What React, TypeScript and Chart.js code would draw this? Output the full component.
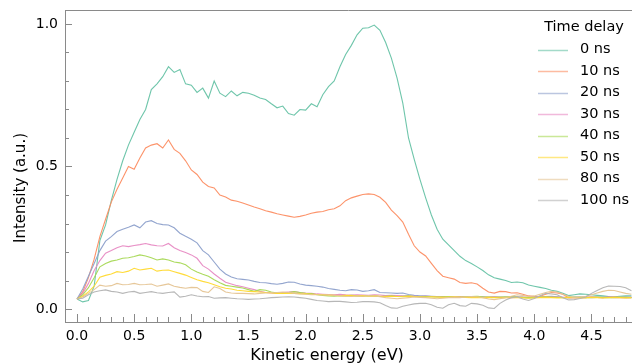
import React, { useEffect, useRef } from "react";
import { Chart, registerables } from "chart.js";

Chart.register(...registerables);

// Kinetic energy grid (eV)
const energy = [
  0.0, 0.05, 0.1, 0.15, 0.2, 0.25, 0.3, 0.35, 0.4, 0.45,
  0.5, 0.55, 0.6, 0.65, 0.7, 0.75, 0.8, 0.85, 0.9, 0.95,
  1.0, 1.05, 1.1, 1.15, 1.2, 1.25, 1.3, 1.35, 1.4, 1.45,
  1.5, 1.55, 1.6, 1.65, 1.7, 1.75, 1.8, 1.85, 1.9, 1.95,
  2.0, 2.05, 2.1, 2.15, 2.2, 2.25, 2.3, 2.35, 2.4, 2.45,
  2.5, 2.55, 2.6, 2.65, 2.7, 2.75, 2.8, 2.85, 2.9, 2.95,
  3.0, 3.05, 3.1, 3.15, 3.2, 3.25, 3.3, 3.35, 3.4, 3.45,
  3.5, 3.55, 3.6, 3.65, 3.7, 3.75, 3.8, 3.85, 3.9, 3.95,
  4.0, 4.05, 4.1, 4.15, 4.2, 4.25, 4.3, 4.35, 4.4, 4.45,
  4.5, 4.55, 4.6, 4.65, 4.7, 4.75, 4.8, 4.85,
];

const delay0 = [
  0.035, 0.025, 0.03, 0.08, 0.24, 0.295, 0.38, 0.455, 0.52, 0.575,
  0.62, 0.665, 0.7, 0.77, 0.79, 0.815, 0.85, 0.83, 0.84, 0.79,
  0.785, 0.76, 0.775, 0.74, 0.8, 0.757, 0.745, 0.765, 0.748, 0.76,
  0.757, 0.75, 0.74, 0.735, 0.72, 0.706, 0.712, 0.686, 0.68, 0.7,
  0.698, 0.72, 0.71, 0.752, 0.78, 0.8, 0.85, 0.893, 0.925, 0.962,
  0.985, 0.987, 0.996, 0.978, 0.935, 0.88, 0.81, 0.722, 0.6, 0.525,
  0.455, 0.39, 0.33, 0.28, 0.245, 0.225, 0.205, 0.185, 0.17, 0.16,
  0.148, 0.135, 0.12, 0.11, 0.105, 0.1, 0.093, 0.095, 0.092, 0.084,
  0.08, 0.076, 0.072, 0.066, 0.062, 0.055, 0.047, 0.05, 0.053, 0.052,
  0.05, 0.048, 0.046, 0.044, 0.043, 0.045, 0.046, 0.046,
];

const delay10 = [
  0.035, 0.06, 0.11, 0.175, 0.254, 0.315, 0.375, 0.42, 0.46, 0.5,
  0.49, 0.53, 0.565, 0.575, 0.58, 0.565, 0.593, 0.56, 0.546, 0.52,
  0.488, 0.472, 0.445, 0.43, 0.425, 0.4, 0.393, 0.382, 0.378, 0.372,
  0.365, 0.358, 0.352, 0.345, 0.34, 0.334, 0.33, 0.326, 0.322, 0.325,
  0.33, 0.336, 0.34, 0.342, 0.348, 0.352, 0.362, 0.38, 0.39, 0.396,
  0.402, 0.404, 0.402, 0.392, 0.374, 0.347, 0.328, 0.305, 0.262, 0.222,
  0.2, 0.186, 0.16, 0.135, 0.115, 0.11, 0.105, 0.093, 0.09, 0.092,
  0.088, 0.073, 0.06, 0.056, 0.062, 0.061, 0.056, 0.057, 0.052, 0.046,
  0.044, 0.045, 0.052, 0.058, 0.056, 0.052, 0.04, 0.04, 0.041, 0.04,
  0.042, 0.041, 0.04, 0.042, 0.041, 0.04, 0.041, 0.04,
];

const delay20 = [
  0.035, 0.07, 0.115, 0.16, 0.205, 0.238, 0.254, 0.272, 0.28, 0.287,
  0.295, 0.285, 0.305, 0.31, 0.3, 0.296, 0.295, 0.285, 0.266, 0.255,
  0.245, 0.232, 0.205, 0.19, 0.165, 0.14, 0.123, 0.112, 0.106, 0.104,
  0.102, 0.097, 0.093, 0.092, 0.089, 0.087, 0.09, 0.095, 0.094, 0.088,
  0.084, 0.082, 0.08, 0.077, 0.072, 0.069, 0.066, 0.064, 0.068, 0.067,
  0.062, 0.064, 0.068, 0.058, 0.057, 0.056, 0.055, 0.056, 0.051, 0.048,
  0.046, 0.046, 0.045, 0.044, 0.044, 0.043, 0.042, 0.043, 0.042, 0.041,
  0.042, 0.043, 0.041, 0.042, 0.04, 0.041, 0.042, 0.043, 0.041, 0.04,
  0.041, 0.042, 0.044, 0.045, 0.043, 0.041, 0.04, 0.041, 0.042, 0.041,
  0.04, 0.041, 0.042, 0.041, 0.04, 0.041, 0.042, 0.041,
];

const delay30 = [
  0.035, 0.055, 0.09, 0.135, 0.17, 0.196, 0.205, 0.215, 0.222, 0.219,
  0.223, 0.226, 0.23, 0.225, 0.222, 0.221, 0.23, 0.215, 0.205, 0.198,
  0.19, 0.178, 0.152, 0.14, 0.123, 0.108, 0.094, 0.088, 0.082, 0.078,
  0.073, 0.068, 0.062, 0.058, 0.056, 0.055, 0.058, 0.06, 0.061, 0.058,
  0.056, 0.055, 0.053, 0.052, 0.051, 0.05, 0.052, 0.05, 0.049, 0.05,
  0.049, 0.048, 0.05, 0.049, 0.047, 0.048, 0.047, 0.046, 0.046, 0.045,
  0.044, 0.045, 0.044, 0.043, 0.044, 0.043, 0.042, 0.043, 0.042, 0.043,
  0.042, 0.041, 0.042, 0.043, 0.042, 0.041, 0.04, 0.041, 0.042, 0.041,
  0.042, 0.043, 0.044, 0.043, 0.042, 0.041, 0.04, 0.041, 0.04, 0.041,
  0.042, 0.041, 0.04, 0.041, 0.042, 0.041, 0.04, 0.041,
];

const delay40 = [
  0.035, 0.05, 0.075, 0.11, 0.148, 0.16, 0.168, 0.172, 0.178, 0.18,
  0.184, 0.19, 0.186, 0.18, 0.172, 0.176, 0.172, 0.165, 0.162, 0.155,
  0.14, 0.13, 0.122, 0.115, 0.103, 0.092, 0.083, 0.08, 0.077, 0.074,
  0.068, 0.062, 0.068, 0.066, 0.06, 0.056, 0.055, 0.058, 0.061, 0.058,
  0.055, 0.054, 0.05, 0.048, 0.046, 0.045, 0.047, 0.046, 0.048, 0.046,
  0.045, 0.047, 0.046, 0.044, 0.045, 0.046, 0.044, 0.045, 0.046, 0.044,
  0.043, 0.044, 0.043, 0.042, 0.043, 0.044, 0.042, 0.041, 0.043, 0.044,
  0.045, 0.043, 0.042, 0.041, 0.042, 0.043, 0.044, 0.042, 0.041, 0.04,
  0.041, 0.042, 0.043, 0.042, 0.041, 0.04, 0.041, 0.042, 0.041, 0.04,
  0.041, 0.042, 0.041, 0.04, 0.041, 0.042, 0.041, 0.04,
];

const delay50 = [
  0.035, 0.045, 0.06, 0.08, 0.112, 0.118, 0.123, 0.131, 0.128, 0.133,
  0.143, 0.137, 0.14, 0.143, 0.133, 0.136, 0.137, 0.131, 0.125, 0.119,
  0.111, 0.103, 0.097, 0.092, 0.085, 0.078, 0.073, 0.07, 0.066, 0.064,
  0.062, 0.061, 0.06, 0.058, 0.056, 0.055, 0.055, 0.055, 0.055, 0.054,
  0.053, 0.052, 0.051, 0.05, 0.049, 0.048, 0.047, 0.048, 0.047, 0.046,
  0.047, 0.045, 0.046, 0.045, 0.044, 0.045, 0.044, 0.043, 0.045, 0.044,
  0.043, 0.042, 0.043, 0.042, 0.041, 0.042, 0.043, 0.042, 0.041, 0.04,
  0.041, 0.04, 0.041, 0.04, 0.039, 0.04, 0.041, 0.04, 0.039, 0.038,
  0.039, 0.04, 0.041, 0.04, 0.039, 0.04, 0.041, 0.04, 0.039, 0.04,
  0.041, 0.04, 0.039, 0.04, 0.041, 0.04, 0.039, 0.04,
];

const delay80 = [
  0.035, 0.042, 0.055, 0.068, 0.084, 0.08, 0.082, 0.09, 0.085, 0.086,
  0.09, 0.085, 0.086, 0.088, 0.08, 0.084, 0.088, 0.08, 0.076, 0.073,
  0.076, 0.075, 0.062, 0.058, 0.078, 0.072, 0.06, 0.056, 0.055, 0.055,
  0.054, 0.053, 0.055, 0.056, 0.057, 0.058, 0.06, 0.058, 0.055, 0.053,
  0.052, 0.05, 0.05, 0.049, 0.05, 0.048, 0.047, 0.045, 0.044, 0.046,
  0.045, 0.047, 0.046, 0.043, 0.04, 0.038, 0.036, 0.038, 0.04, 0.042,
  0.041, 0.04, 0.038, 0.036, 0.038, 0.04, 0.041, 0.04, 0.042, 0.044,
  0.043, 0.04, 0.035, 0.033, 0.036, 0.04, 0.045, 0.05, 0.048, 0.044,
  0.046, 0.052, 0.058, 0.062, 0.06, 0.052, 0.045, 0.04, 0.042, 0.045,
  0.05, 0.056, 0.062, 0.066, 0.065, 0.06, 0.055, 0.052,
];

const delay100 = [
  0.035, 0.038, 0.05, 0.06, 0.064, 0.067, 0.062, 0.06, 0.055, 0.06,
  0.062, 0.055, 0.058, 0.061, 0.057, 0.055, 0.058, 0.06, 0.042, 0.045,
  0.05, 0.046, 0.043, 0.044, 0.038, 0.039, 0.04, 0.038, 0.036, 0.035,
  0.034, 0.035, 0.036, 0.038, 0.04, 0.041, 0.042, 0.043, 0.042, 0.04,
  0.038, 0.034, 0.03, 0.028, 0.026, 0.027, 0.027, 0.025, 0.023, 0.024,
  0.026, 0.026, 0.025, 0.022, 0.012, 0.004, 0.003, 0.01, 0.014, 0.018,
  0.02, 0.02, 0.015, 0.006, 0.003, 0.015, 0.02, 0.012, 0.01, 0.02,
  0.018, 0.013, 0.004, 0.002, 0.02, 0.032, 0.04, 0.043, 0.035, 0.03,
  0.037, 0.047, 0.055, 0.053, 0.05, 0.04, 0.032, 0.033, 0.037, 0.042,
  0.055, 0.065, 0.075, 0.081, 0.08, 0.079, 0.075, 0.064,
];

const seriesLabels = ["0 ns", "10 ns", "20 ns", "30 ns", "40 ns", "50 ns", "80 ns", "100 ns"];
const seriesValues = [delay0, delay10, delay20, delay30, delay40, delay50, delay80, delay100];
const seriesColors = ["#66c2a5", "#fc8d62", "#8da0cb", "#e78ac3", "#a6d854", "#ffd92f", "#e5c494", "#b3b3b3"];

const xTickLabels = [0.0, 0.5, 1.0, 1.5, 2.0, 2.5, 3.0, 3.5, 4.0, 4.5];
const yTickLabels = [0.0, 0.5, 1.0];
const xMinorTicks = Array.from({ length: 49 }, (_, i) => i / 10);
const yMinorTicks = Array.from({ length: 11 }, (_, i) => i / 10);

const legendTitle = "Time delay";
const xTitle = "Kinetic energy (eV)";
const yTitle = "Intensity (a.u.)";

const FONT = "'DejaVu Sans', 'Noto Sans', sans-serif";
const AXIS_COLOR = "#8a8a8a";

function hexA(hex: string, a: number) {
  const n = parseInt(hex.slice(1), 16);
  return `rgba(${(n >> 16) & 255},${(n >> 8) & 255},${n & 255},${a})`;
}

const decorPlugin = {
  id: "decor",
  afterDraw(chart: any) {
    const { ctx, chartArea: ca, scales } = chart;
    const xs = scales.x;
    const ys = scales.y;
    ctx.save();
    ctx.strokeStyle = AXIS_COLOR;
    ctx.lineWidth = 1;
    // frame: left, bottom, top
    ctx.beginPath();
    ctx.moveTo(ca.left + 0.5, ca.top);
    ctx.lineTo(ca.left + 0.5, ca.bottom);
    ctx.moveTo(ca.left, ca.bottom - 0.5);
    ctx.lineTo(ca.right, ca.bottom - 0.5);
    ctx.moveTo(ca.left, ca.top + 0.5);
    ctx.lineTo(ca.right, ca.top + 0.5);
    ctx.stroke();
    // x ticks (inward)
    ctx.beginPath();
    for (const v of xMinorTicks) {
      const major = xTickLabels.some((t) => Math.abs(t - v) < 1e-6);
      const px = Math.round(xs.getPixelForValue(v)) + 0.5;
      const len = major ? 9 : 6;
      ctx.moveTo(px, ca.bottom);
      ctx.lineTo(px, ca.bottom - len);
    }
    for (const v of yMinorTicks) {
      const major = yTickLabels.some((t) => Math.abs(t - v) < 1e-6);
      const py = Math.round(ys.getPixelForValue(v)) + 0.5;
      const len = major ? 7 : 4;
      ctx.moveTo(ca.left, py);
      ctx.lineTo(ca.left + len, py);
    }
    ctx.stroke();

    // axis titles
    ctx.fillStyle = "#000";
    ctx.font = `16px ${FONT}`;
    ctx.textAlign = "center";
    ctx.textBaseline = "alphabetic";
    ctx.fillText(xTitle, 327, 360);
    ctx.save();
    ctx.translate(25, 188);
    ctx.rotate(-Math.PI / 2);
    ctx.font = `15px ${FONT}`;
    ctx.fillText(yTitle, 0, 0);
    ctx.restore();

    // legend
    ctx.font = `14.5px ${FONT}`;
    ctx.textBaseline = "middle";
    ctx.textAlign = "center";
    ctx.fillText(legendTitle, 584, 27);
    ctx.textAlign = "left";
    seriesLabels.forEach((lab, i) => {
      const y = 49.5 + i * 21.5;
      ctx.strokeStyle = hexA(seriesColors[i], 0.6);
      ctx.lineWidth = 1.5;
      ctx.beginPath();
      ctx.moveTo(538, Math.round(y) + 0.5);
      ctx.lineTo(568, Math.round(y) + 0.5);
      ctx.stroke();
      ctx.fillStyle = "#000";
      ctx.fillText(lab, 580, y);
    });
    ctx.restore();
  },
};

export default function App() {
  const ref = useRef<HTMLCanvasElement | null>(null);
  useEffect(() => {
    if (!ref.current) return;
    Chart.defaults.font.family = FONT;
    Chart.defaults.color = "#000";
    const datasets = seriesValues.map((vals, i) => ({
      label: seriesLabels[i],
      data: energy.map((e, j) => ({ x: e, y: vals[j] })),
      borderColor: hexA(seriesColors[i], 0.95),
      backgroundColor: seriesColors[i],
      borderWidth: 1.1,
      pointRadius: 0,
      tension: 0,
      fill: false,
      order: seriesValues.length - i,
    }));
    const chart = new Chart(ref.current, {
      type: "line",
      data: { datasets },
      options: {
        animation: false,
        responsive: false,
        devicePixelRatio: 1,
        layout: { padding: { left: 0, top: 10, right: 0, bottom: 0 } },
        plugins: { legend: { display: false }, tooltip: { enabled: false } },
        scales: {
          x: {
            type: "linear",
            min: -0.105,
            max: 4.855,
            grid: { display: false, drawTicks: false },
            border: { display: false },
            afterBuildTicks: (s: any) => {
              s.ticks = xTickLabels.map((v) => ({ value: v }));
            },
            afterFit: (s: any) => {
              s.height = 41;
              s.paddingLeft = 0;
              s.paddingRight = 0;
              s.paddingTop = 0;
              s.paddingBottom = 0;
            },
            ticks: {
              font: { size: 14, family: FONT },
              color: "#000",
              padding: 5,
              maxRotation: 0,
              autoSkip: false,
              callback: (v: any) => Number(v).toFixed(1),
            },
          },
          y: {
            type: "linear",
            min: -0.049,
            max: 1.049,
            grid: { display: false, drawTicks: false },
            border: { display: false },
            afterBuildTicks: (s: any) => {
              s.ticks = yTickLabels.map((v) => ({ value: v }));
            },
            afterFit: (s: any) => {
              s.width = 65;
              s.paddingLeft = 0;
              s.paddingRight = 0;
              s.paddingTop = 0;
              s.paddingBottom = 0;
            },
            ticks: {
              font: { size: 14, family: FONT },
              color: "#000",
              padding: 7,
              callback: (v: any) => Number(v).toFixed(1),
            },
          },
        },
      },
      plugins: [decorPlugin],
    });
    return () => chart.destroy();
  }, []);
  return (
    <div style={{ position: "fixed", left: 0, top: 0, width: 632, height: 364, background: "#fff" }}>
      <canvas ref={ref} width={632} height={364} style={{ width: 632, height: 364, display: "block" }} />
    </div>
  );
}
